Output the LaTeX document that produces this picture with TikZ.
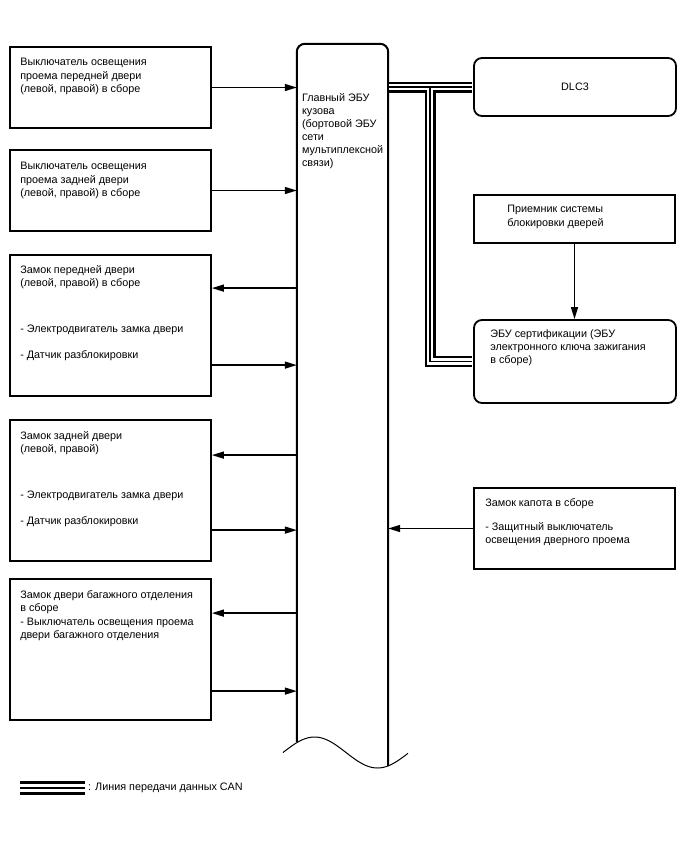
\documentclass[tikz,border=0pt]{standalone}
\usepackage{fontspec}
\setmainfont{Liberation Sans}
\usetikzlibrary{arrows.meta}

\begin{document}
\begin{tikzpicture}[x=1pt,y=-1pt,
  blk/.style={draw, line width=1.8pt, inner sep=0pt, minimum width=201pt},
  rblk/.style={blk, rounded corners=8pt},
  txt/.style={anchor=north west, align=left, inner sep=0pt, font=\fontsize{10.8}{13.4}\selectfont},
  sig/.style={-{Triangle[length=12pt,width=7pt]}, line width=1.4pt}]
\useasboundingbox (0,0) rectangle (688,852);
% left column
\node[blk, minimum height=81pt] (sw1) at (110.5,87.5) {};
\node[blk, minimum height=81pt] (sw2) at (110.5,190.5) {};
\node[blk, minimum height=141pt] (dl1) at (110.5,325.5) {};
\node[blk, minimum height=141pt] (dl2) at (110.5,490.5) {};
\node[blk, minimum height=141pt] (tl) at (110.5,649.5) {};
\node[txt] (sw1t) at ([xshift=11pt,yshift=-12pt]sw1.north west) {Выключатель освещения\\проема передней двери\\(левой, правой) в сборе};
\node[txt] (sw2t) at ([xshift=11pt,yshift=-13pt]sw2.north west) {Выключатель освещения\\проема задней двери\\(левой, правой) в сборе};
\node[txt] (dl1t) at ([xshift=11pt,yshift=-11pt]dl1.north west) {Замок передней двери\\(левой, правой) в сборе\\[32.5pt]- Электродвигатель замка двери\\[12.5pt]- Датчик разблокировки};
\node[txt] (dl2t) at ([xshift=11pt,yshift=-12pt]dl2.north west) {Замок задней двери\\(левой, правой)\\[32.5pt]- Электродвигатель замка двери\\[12.5pt]- Датчик разблокировки};
\node[txt] (tlt) at ([xshift=11pt,yshift=-12pt]tl.north west) {Замок двери багажного отделения\\в сборе\\- Выключатель освещения проема\\двери багажного отделения};
% body ECU
\node[minimum width=91pt, minimum height=722pt, inner sep=0pt] (bcm) at (342.5,405) {};
\draw[line width=2pt, rounded corners=8pt] ([yshift=24pt]bcm.south west) |- (bcm.north east) -- (bcm.south east);
\draw[line width=1pt] plot[domain=283:408, samples=80, smooth] (\x,{752.5-15.5*sin((\x-283)/126*360)});
\node[txt, font=\fontsize{10.8}{13}\selectfont] (bcmt) at ([xshift=5pt,yshift=-49pt]bcm.north west) {Главный ЭБУ\\кузова\\(бортовой ЭБУ\\сети\\мультиплексной\\связи)};
% right column
\node[rblk, minimum width=202pt, minimum height=58pt, font=\fontsize{10.8}{13.4}\selectfont] (dlc) at (575,87) {DLC3};
\node[blk, minimum height=48pt] (rcv) at (574.5,219) {};
\node[rblk, minimum width=202pt, minimum height=83pt] (cert) at (575,361.5) {};
\node[blk, minimum height=81pt] (hood) at (574.5,528.5) {};
\node[txt] (rcvt) at ([xshift=34pt,yshift=-11pt]rcv.north west) {Приемник системы\\блокировки дверей};
\node[txt] (certt) at ([xshift=17pt,yshift=-10pt]cert.north west) {ЭБУ сертификации (ЭБУ\\электронного ключа зажигания\\в сборе)};
\node[txt] (hoodt) at ([xshift=12pt,yshift=-11pt]hood.north west) {Замок капота в сборе\\[10.5pt]- Защитный выключатель\\освещения дверного проема};
% signal lines
\coordinate (dl1a) at ([yshift=-34pt]dl1.north east);
\coordinate (dl1b) at ([yshift=-111pt]dl1.north east);
\coordinate (dl2a) at ([yshift=-36pt]dl2.north east);
\coordinate (dl2b) at ([yshift=-111pt]dl2.north east);
\coordinate (tla) at ([yshift=-35pt]tl.north east);
\coordinate (tlb) at ([yshift=-113pt]tl.north east);
\draw[sig] (sw1) -- (sw1 -| bcm.west);
\draw[sig] (sw2) -- (sw2 -| bcm.west);
\draw[sig] (dl1a -| bcm.west) -- (dl1a);
\draw[sig] (dl1b) -- (dl1b -| bcm.west);
\draw[sig] (dl2a -| bcm.west) -- (dl2a);
\draw[sig] (dl2b) -- (dl2b -| bcm.west);
\draw[sig] (tla -| bcm.west) -- (tla);
\draw[sig] (tlb) -- (tlb -| bcm.west);
\draw[sig] (hood) -- (hood -| bcm.east);
\draw[sig] (rcv) -- (rcv |- cert.north);
% CAN bus
\coordinate (br) at (430,87);
\foreach \w/\c in {11pt/black,6.5pt/white,1.8pt/black}{
  \draw[line width=\w, draw=\c, line join=miter, shorten <=1pt, shorten >=1pt] (bcm.east |- dlc.west) -- (dlc.west);
  \draw[line width=\w, draw=\c, line join=miter, shorten >=1pt] (br) |- (cert.west);
}
% legend
\coordinate (lgs) at (20,788);
\node[anchor=west, inner sep=0pt, font=\fontsize{10.8}{13.4}\selectfont] (lgt) at (88,788) {: Линия передачи данных CAN};
\foreach \w/\c in {13.5pt/black,8pt/white,2.6pt/black}
  \draw[line width=\w, draw=\c, shorten >=3pt] (lgs) -- (lgs -| lgt.west);
\end{tikzpicture}
\end{document}
